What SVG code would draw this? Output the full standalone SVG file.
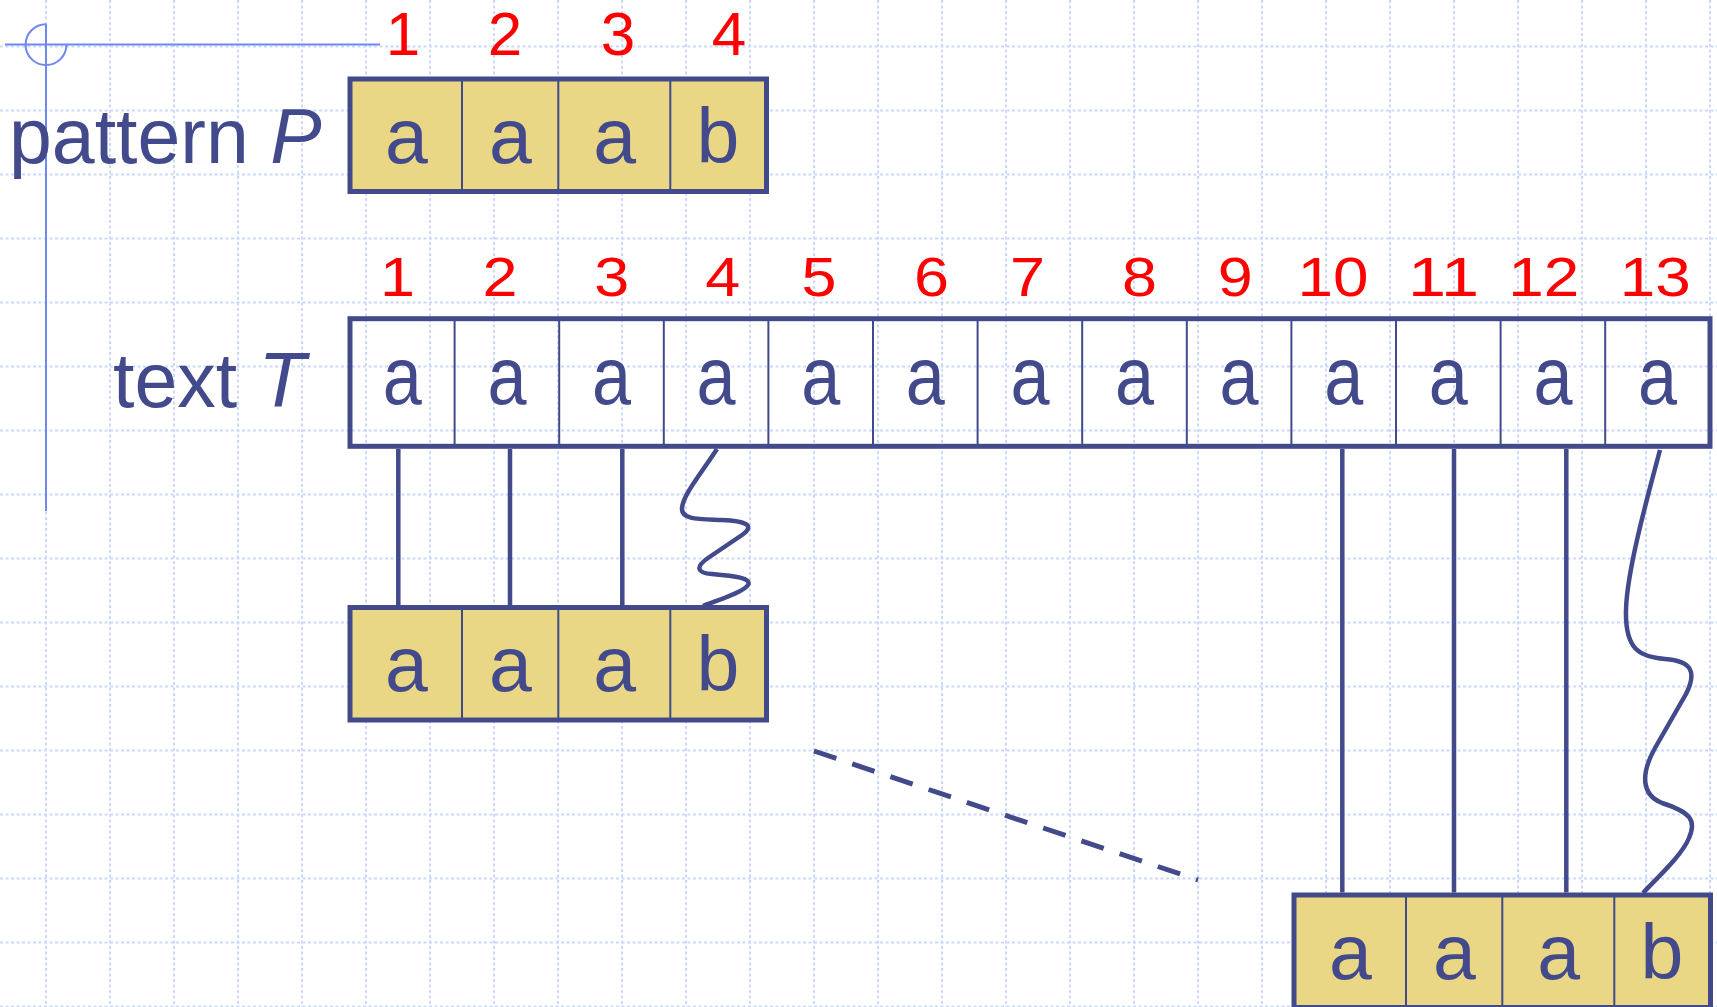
<svg xmlns="http://www.w3.org/2000/svg" width="1717" height="1007" viewBox="0 0 1717 1007">
<style>
.grid{stroke:#ccd9f8;stroke-width:2;stroke-dasharray:3 2.5;fill:none}
.guide{stroke:#6f87ee;stroke-width:2;fill:none}
.pbox{fill:#ead785;stroke:#424a8c;stroke-width:5}
.tbox{fill:none;stroke:#424a8c;stroke-width:5}
.div{stroke:#424a8c;stroke-width:2;fill:none}
.conn{stroke:#424a8c;stroke-width:4.5;fill:none}
.dash{stroke:#424a8c;stroke-width:5;fill:none;stroke-dasharray:23.5 16.8}
.lbl{font-family:"Liberation Sans",Arial,sans-serif;fill:#424a8c}
.plet{font-family:"Liberation Sans",Arial,sans-serif;fill:#424a8c;font-size:77px;text-anchor:middle}
.tlet{font-family:"Liberation Sans",Arial,sans-serif;fill:#424a8c;font-size:82px;text-anchor:middle}
.pnum{font-family:"Liberation Sans",Arial,sans-serif;fill:#ff0000;font-size:62px;text-anchor:middle}
.tnum{font-family:"Liberation Sans",Arial,sans-serif;fill:#ff0000;font-size:55px;text-anchor:middle}
</style>
<rect x="0" y="0" width="1717" height="1007" fill="#ffffff"/>
<g id="grid">
<path class="grid" d="M46,0V1007M110,0V1007M174,0V1007M238,0V1007M302,0V1007M366,0V1007M430,0V1007M494,0V1007M558,0V1007M622,0V1007M686,0V1007M750,0V1007M814,0V1007M878,0V1007M942,0V1007M1006,0V1007M1070,0V1007M1134,0V1007M1198,0V1007M1262,0V1007M1326,0V1007M1390,0V1007M1454,0V1007M1518,0V1007M1582,0V1007M1646,0V1007M1710,0V1007"/>
<path class="grid" d="M0,46.5H1717M0,110.5H1717M0,174.5H1717M0,238.5H1717M0,302.5H1717M0,366.5H1717M0,430.5H1717M0,494.5H1717M0,558.5H1717M0,622.5H1717M0,686.5H1717M0,750.5H1717M0,814.5H1717M0,878.5H1717M0,942.5H1717M0,1006.5H1717"/>
</g>
<g id="guides">
<path class="guide" d="M5,44.5H380M46,24.3V511"/>
<path class="guide" d="M46,24.3A20.4,20.4 0 1 0 66.4,44.7"/>
</g>
<g id="pattern-label">
<text class="lbl" x="9" y="163" font-size="77">pattern <tspan font-style="italic">P</tspan></text>
</g>
<g id="pattern-numbers">
<text class="pnum" x="403" y="55">1</text>
<text class="pnum" x="505" y="55">2</text>
<text class="pnum" x="618" y="55">3</text>
<text class="pnum" x="729" y="55">4</text>
</g>
<g id="pattern-top">
<rect class="pbox" x="350" y="79" width="416.5" height="112.5"/>
<path class="div" d="M462,79V191.5M558.3,79V191.5M670.3,79V191.5"/>
<text class="plet" x="406.3" y="163">a</text>
<text class="plet" x="510.3" y="163">a</text>
<text class="plet" x="614.7" y="163">a</text>
<text class="plet" x="718" y="163">b</text>
</g>
<g id="text-label">
<text class="lbl" x="113" y="406.5" font-size="77">text <tspan font-style="italic">T</tspan></text>
</g>
<g id="text-numbers">
<text class="tnum" x="397.5" y="296" textLength="35" lengthAdjust="spacingAndGlyphs">1</text>
<text class="tnum" x="500" y="296" textLength="35" lengthAdjust="spacingAndGlyphs">2</text>
<text class="tnum" x="611.7" y="296" textLength="35" lengthAdjust="spacingAndGlyphs">3</text>
<text class="tnum" x="722.8" y="296" textLength="35" lengthAdjust="spacingAndGlyphs">4</text>
<text class="tnum" x="819" y="296" textLength="35" lengthAdjust="spacingAndGlyphs">5</text>
<text class="tnum" x="931.5" y="296" textLength="35" lengthAdjust="spacingAndGlyphs">6</text>
<text class="tnum" x="1027.4" y="296" textLength="35" lengthAdjust="spacingAndGlyphs">7</text>
<text class="tnum" x="1139.5" y="296" textLength="35" lengthAdjust="spacingAndGlyphs">8</text>
<text class="tnum" x="1235.3" y="296" textLength="35" lengthAdjust="spacingAndGlyphs">9</text>
<text class="tnum" x="1333" y="296" textLength="71" lengthAdjust="spacingAndGlyphs">10</text>
<text class="tnum" x="1443.5" y="296" textLength="71" lengthAdjust="spacingAndGlyphs">11</text>
<text class="tnum" x="1543.7" y="296" textLength="71" lengthAdjust="spacingAndGlyphs">12</text>
<text class="tnum" x="1655.3" y="296" textLength="71" lengthAdjust="spacingAndGlyphs">13</text>
</g>
<g id="text-T">
<rect class="tbox" x="350" y="318.7" width="1360" height="127.6"/>
<path class="div" d="M454.6,318.7V446.3M559.2,318.7V446.3M663.8,318.7V446.3M768.4,318.7V446.3M873,318.7V446.3M977.6,318.7V446.3M1082.2,318.7V446.3M1186.8,318.7V446.3M1291.4,318.7V446.3M1396,318.7V446.3M1500.6,318.7V446.3M1605.2,318.7V446.3"/>
<text class="tlet" x="402.3" y="404" textLength="39" lengthAdjust="spacingAndGlyphs">a</text>
<text class="tlet" x="506.9" y="404" textLength="39" lengthAdjust="spacingAndGlyphs">a</text>
<text class="tlet" x="611.5" y="404" textLength="39" lengthAdjust="spacingAndGlyphs">a</text>
<text class="tlet" x="716.1" y="404" textLength="39" lengthAdjust="spacingAndGlyphs">a</text>
<text class="tlet" x="820.7" y="404" textLength="39" lengthAdjust="spacingAndGlyphs">a</text>
<text class="tlet" x="925.3" y="404" textLength="39" lengthAdjust="spacingAndGlyphs">a</text>
<text class="tlet" x="1029.9" y="404" textLength="39" lengthAdjust="spacingAndGlyphs">a</text>
<text class="tlet" x="1134.5" y="404" textLength="39" lengthAdjust="spacingAndGlyphs">a</text>
<text class="tlet" x="1239.1" y="404" textLength="39" lengthAdjust="spacingAndGlyphs">a</text>
<text class="tlet" x="1343.7" y="404" textLength="39" lengthAdjust="spacingAndGlyphs">a</text>
<text class="tlet" x="1448.3" y="404" textLength="39" lengthAdjust="spacingAndGlyphs">a</text>
<text class="tlet" x="1552.9" y="404" textLength="39" lengthAdjust="spacingAndGlyphs">a</text>
<text class="tlet" x="1657.5" y="404" textLength="39" lengthAdjust="spacingAndGlyphs">a</text>
</g>
<g id="connectors">
<path class="conn" d="M398.3,449V605M510,449V605M622.3,449V605"/>
<path class="conn" d="M717,449C700,475 683,495 682,508C681,520 700,519 722,520C745,521 756,525 742,535L708,558C695,567 697,573 712,574C735,576 752,578 748,585C744,592 718,600 703,606"/>
<path class="conn" d="M1342.3,449V892.5M1454,449V892.5M1566.3,449V892.5"/>
<path class="conn" d="M1660,450C1648,495 1627,570 1626,610C1625,650 1640,657 1665,659C1692,661 1697,672 1686,694L1655,748C1640,775 1642,795 1662,803C1690,812 1697,820 1689,838C1682,855 1660,875 1643,893"/>
<path class="dash" d="M814,751L1198,880"/>
</g>
<g id="pattern-shift1">
<rect class="pbox" x="350" y="607.5" width="416.5" height="112.5"/>
<path class="div" d="M462,607.5V720M558.3,607.5V720M670.3,607.5V720"/>
<text class="plet" x="406.3" y="691">a</text>
<text class="plet" x="510.3" y="691">a</text>
<text class="plet" x="614.7" y="691">a</text>
<text class="plet" x="718" y="691">b</text>
</g>
<g id="pattern-shift10">
<rect class="pbox" x="1294" y="895" width="416.5" height="112.5"/>
<path class="div" d="M1406,895V1007.5M1502.3,895V1007.5M1614.3,895V1007.5"/>
<text class="plet" x="1350.3" y="978.5">a</text>
<text class="plet" x="1454.3" y="978.5">a</text>
<text class="plet" x="1558.7" y="978.5">a</text>
<text class="plet" x="1662" y="978.5">b</text>
</g>
</svg>
